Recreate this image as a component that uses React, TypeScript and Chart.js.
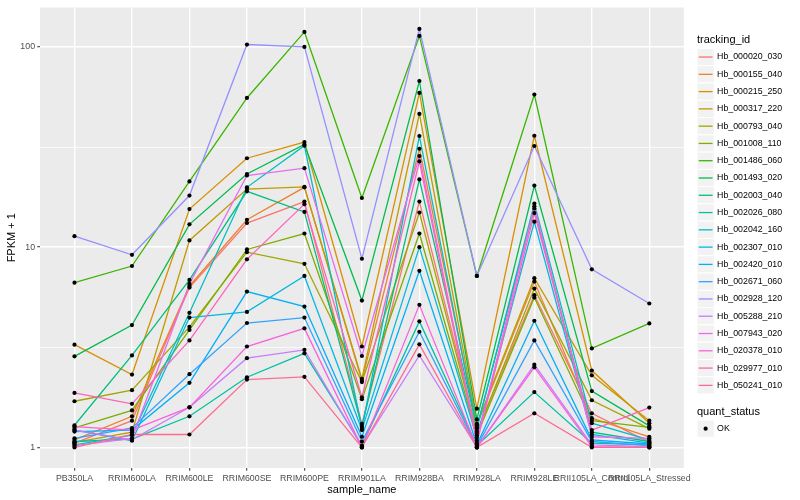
import React, { useEffect, useRef } from "react";
import { Chart, registerables } from "chart.js";

Chart.register(...registerables);

const categories = [
  "PB350LA", "RRIM600LA", "RRIM600LE", "RRIM600SE", "RRIM600PE", "RRIM901LA",
  "RRIM928BA", "RRIM928LA", "RRIM928LE", "RRII105LA_Control", "RRII105LA_Stressed",
];

const trackingIds = [
  "Hb_000020_030", "Hb_000155_040", "Hb_000215_250", "Hb_000317_220", "Hb_000793_040",
  "Hb_001008_110", "Hb_001486_060", "Hb_001493_020", "Hb_002003_040", "Hb_002026_080",
  "Hb_002042_160", "Hb_002307_010", "Hb_002420_010", "Hb_002671_060", "Hb_002928_120",
  "Hb_005288_210", "Hb_007943_020", "Hb_020378_010", "Hb_029977_010", "Hb_050241_010",
];

const seriesColors = [
  "#F8766D", "#EA8331", "#D89000", "#C09B00", "#A3A500", "#7CAE00", "#39B600", "#00BB4E",
  "#00BF7D", "#00C1A3", "#00BFC4", "#00BAE0", "#00B0F6", "#35A2FF", "#9590FF", "#C77CFF",
  "#E76BF3", "#FA62DB", "#FF62BC", "#FF6C91",
];

// FPKM + 1 values per sample (same order as categories)
const hb_000020_030 = [1.05, 1.36, 6.28, 13.2, 16.9, 1.31, 16.9, 1.2, 5.76, 1.48, 1.06];
const hb_000155_040 = [1.09, 1.43, 6.4, 13.7, 19.9, 2.15, 31.0, 1.29, 6.73, 1.4, 1.13];
const hb_000215_250 = [3.26, 2.31, 15.5, 27.8, 33.5, 3.19, 58.9, 1.56, 36.0, 2.42, 1.32];
const hb_000317_220 = [1.06, 1.19, 10.8, 19.5, 20.0, 2.2, 46.3, 1.31, 7.0, 2.29, 1.36];
const hb_000793_040 = [1.7, 1.93, 4.0, 9.44, 8.26, 2.12, 14.9, 1.18, 6.21, 1.72, 1.24];
const hb_001008_110 = [1.25, 1.53, 3.86, 9.74, 11.7, 1.74, 11.7, 1.15, 5.6, 1.36, 1.26];
const hb_001486_060 = [6.65, 8.05, 21.3, 55.6, 118.8, 17.6, 113.5, 7.18, 57.8, 3.12, 4.16];
const hb_001493_020 = [2.85, 4.08, 13.0, 23.2, 32.6, 5.41, 67.6, 1.38, 20.3, 1.91, 1.28];
const hb_002003_040 = [1.29, 2.88, 6.86, 19.0, 15.0, 1.27, 21.8, 1.26, 15.6, 1.19, 1.07];
const hb_002026_080 = [1.07, 1.1, 1.43, 2.24, 2.95, 1.02, 4.26, 1.02, 1.89, 1.05, 1.03];
const hb_002042_160 = [1.03, 1.15, 4.7, 19.9, 32.1, 1.24, 35.9, 1.24, 16.5, 1.32, 1.09];
const hb_002307_010 = [1.22, 1.08, 4.45, 4.75, 7.18, 1.22, 10.0, 1.12, 13.4, 1.16, 1.05];
const hb_002420_010 = [1.2, 1.22, 2.1, 6.0, 5.05, 1.13, 7.62, 1.03, 4.29, 1.09, 1.04];
const hb_002671_060 = [1.11, 1.25, 2.32, 4.18, 4.45, 1.07, 3.78, 1.01, 3.42, 1.07, 1.02];
const hb_002928_120 = [11.34, 9.16, 18.1, 102.8, 100, 8.75, 123, 7.18, 32.0, 7.75, 5.23];
const hb_005288_210 = [1.22, 1.09, 1.585, 2.79, 3.07, 1.01, 2.88, 1.0, 2.59, 1.03, 1.01];
const hb_007943_020 = [1.02, 1.11, 6.55, 22.8, 24.8, 2.86, 28.5, 1.08, 16.0, 1.13, 1.11];
const hb_020378_010 = [1.27, 1.22, 1.585, 3.19, 3.93, 1.0, 5.15, 1.0, 2.51, 1.01, 1.0];
const hb_029977_010 = [1.87, 1.65, 3.42, 8.69, 16.4, 1.78, 26.8, 1.05, 14.8, 1.22, 1.58];
const hb_050241_010 = [1.0, 1.16, 1.16, 2.18, 2.25, 1.0, 3.27, 1.0, 1.48, 1.0, 1.0];

const seriesValues = [
  hb_000020_030, hb_000155_040, hb_000215_250, hb_000317_220, hb_000793_040,
  hb_001008_110, hb_001486_060, hb_001493_020, hb_002003_040, hb_002026_080,
  hb_002042_160, hb_002307_010, hb_002420_010, hb_002671_060, hb_002928_120,
  hb_005288_210, hb_007943_020, hb_020378_010, hb_029977_010, hb_050241_010,
];

const yMajorTicks = [1, 10, 100];
const yMinorTicks = [Math.sqrt(10), Math.sqrt(1000)];
const quantStatus = ["OK"];

const FONT = "'Liberation Sans', Arial, Helvetica, sans-serif";

const isMajor = (v: number) => yMajorTicks.some((m) => Math.abs(m - v) < 1e-9);

const panelBg = {
  id: "panelBg",
  beforeDraw(chart: any) {
    const { ctx, chartArea } = chart;
    ctx.save();
    ctx.fillStyle = "#EBEBEB";
    ctx.fillRect(chartArea.left, chartArea.top, chartArea.right - chartArea.left, chartArea.bottom - chartArea.top);
    ctx.restore();
  },
};

const ggLegend = {
  id: "ggLegend",
  afterDraw(chart: any) {
    const { ctx } = chart;
    const x0 = 697;
    const key = 17.28;
    ctx.save();
    ctx.textAlign = "left";
    ctx.textBaseline = "middle";
    ctx.fillStyle = "#000000";
    ctx.font = `11px ${FONT}`;
    ctx.fillText("tracking_id", x0, 40);
    const top0 = 48.4;
    trackingIds.forEach((id, i) => {
      const ty = top0 + i * key;
      ctx.fillStyle = "#F2F2F2";
      ctx.fillRect(x0, ty, key, key);
      ctx.strokeStyle = "#FFFFFF";
      ctx.lineWidth = 1;
      ctx.strokeRect(x0, ty, key, key);
      ctx.strokeStyle = seriesColors[i];
      ctx.lineWidth = 1.3;
      ctx.beginPath();
      ctx.moveTo(x0 + 1.7, ty + key / 2);
      ctx.lineTo(x0 + key - 1.7, ty + key / 2);
      ctx.stroke();
      ctx.fillStyle = "#000000";
      ctx.font = `8.8px ${FONT}`;
      ctx.fillText(id, x0 + key + 2.8, ty + key / 2);
    });
    ctx.font = `11px ${FONT}`;
    ctx.fillText("quant_status", x0, 412);
    quantStatus.forEach((s, i) => {
      const ty = 420 + i * key;
      ctx.fillStyle = "#F2F2F2";
      ctx.fillRect(x0, ty, key, key);
      ctx.strokeStyle = "#FFFFFF";
      ctx.lineWidth = 1;
      ctx.strokeRect(x0, ty, key, key);
      ctx.fillStyle = "#000000";
      ctx.beginPath();
      ctx.arc(x0 + key / 2, ty + key / 2, 2.1, 0, Math.PI * 2);
      ctx.fill();
      ctx.font = `8.8px ${FONT}`;
      ctx.fillText(s, x0 + key + 2.8, ty + key / 2);
    });
    ctx.restore();
  },
};

export default function App() {
  const canvasRef = useRef<HTMLCanvasElement | null>(null);

  useEffect(() => {
    if (!canvasRef.current) return;
    const lineSets = seriesValues.map((vals, s) => ({
      type: "line" as const,
      label: trackingIds[s],
      data: vals.map((v, i) => ({ x: i, y: v })),
      borderColor: seriesColors[s],
      backgroundColor: seriesColors[s],
      borderWidth: 1.3,
      pointRadius: 0,
      tension: 0,
      fill: false,
      order: 100 - s,
    }));
    const pointSet = {
      type: "line" as const,
      label: "points",
      data: seriesValues.flatMap((vals) => vals.map((v, i) => ({ x: i, y: v }))),
      showLine: false,
      pointRadius: 2.1,
      pointHoverRadius: 2.1,
      pointBorderWidth: 0,
      pointBackgroundColor: "#000000",
      borderColor: "#000000",
      order: 0,
    };

    const chart = new Chart(canvasRef.current, {
      type: "line",
      data: { datasets: [...lineSets, pointSet] as any },
      plugins: [panelBg, ggLegend],
      options: {
        animation: false,
        responsive: false,
        devicePixelRatio: 1,
        layout: { padding: { left: 0, top: 5.3, right: 116.2, bottom: 0 } },
        plugins: { legend: { display: false }, tooltip: { enabled: false } },
        scales: {
          x: {
            type: "linear",
            min: -0.6,
            max: 10.6,
            afterBuildTicks: (scale: any) => {
              scale.ticks = categories.map((_, i) => ({ value: i }));
            },
            afterFit: (scale: any) => {
              scale.height = 32;
            },
            ticks: {
              autoSkip: false,
              maxRotation: 0,
              minRotation: 0,
              padding: 2.2,
              color: "#4D4D4D",
              font: { family: FONT, size: 8.8 },
              callback: (v: any) => categories[Math.round(Number(v))] ?? "",
            },
            grid: {
              color: "#FFFFFF",
              lineWidth: 1.42,
              drawTicks: true,
              tickLength: 2.75,
              tickColor: "#333333",
              tickWidth: 1,
            },
            border: { display: false },
            title: {
              display: true,
              text: "sample_name",
              color: "#000000",
              font: { family: FONT, size: 11 },
              padding: { top: 0, bottom: 3.5 },
            },
          },
          y: {
            type: "logarithmic",
            min: 0.789,
            max: 157.4,
            afterBuildTicks: (scale: any) => {
              scale.ticks = [...yMajorTicks, ...yMinorTicks]
                .sort((a, b) => a - b)
                .map((v) => ({ value: v }));
            },
            afterFit: (scale: any) => {
              scale.width = 40;
            },
            ticks: {
              padding: 2.2,
              color: "#4D4D4D",
              font: { family: FONT, size: 8.8 },
              callback: (v: any) => (isMajor(Number(v)) ? String(Math.round(Number(v))) : ""),
            },
            grid: {
              color: "#FFFFFF",
              lineWidth: (ctx: any) => (ctx.tick && isMajor(ctx.tick.value) ? 1.42 : 0.71),
              drawTicks: true,
              tickLength: 2.75,
              tickColor: (ctx: any) => (ctx.tick && isMajor(ctx.tick.value) ? "#333333" : "rgba(0,0,0,0)"),
              tickWidth: 1,
            },
            border: { display: false },
            title: {
              display: true,
              text: "FPKM + 1",
              color: "#000000",
              font: { family: FONT, size: 11 },
              padding: { top: 5.4, bottom: 0 },
            },
          },
        },
      } as any,
    });
    return () => chart.destroy();
  }, []);

  return (
    <div style={{ position: "absolute", left: 0, top: 0, width: 800, height: 500, background: "#FFFFFF" }}>
      <canvas ref={canvasRef} width={800} height={500} style={{ width: 800, height: 500, display: "block" }} />
    </div>
  );
}
